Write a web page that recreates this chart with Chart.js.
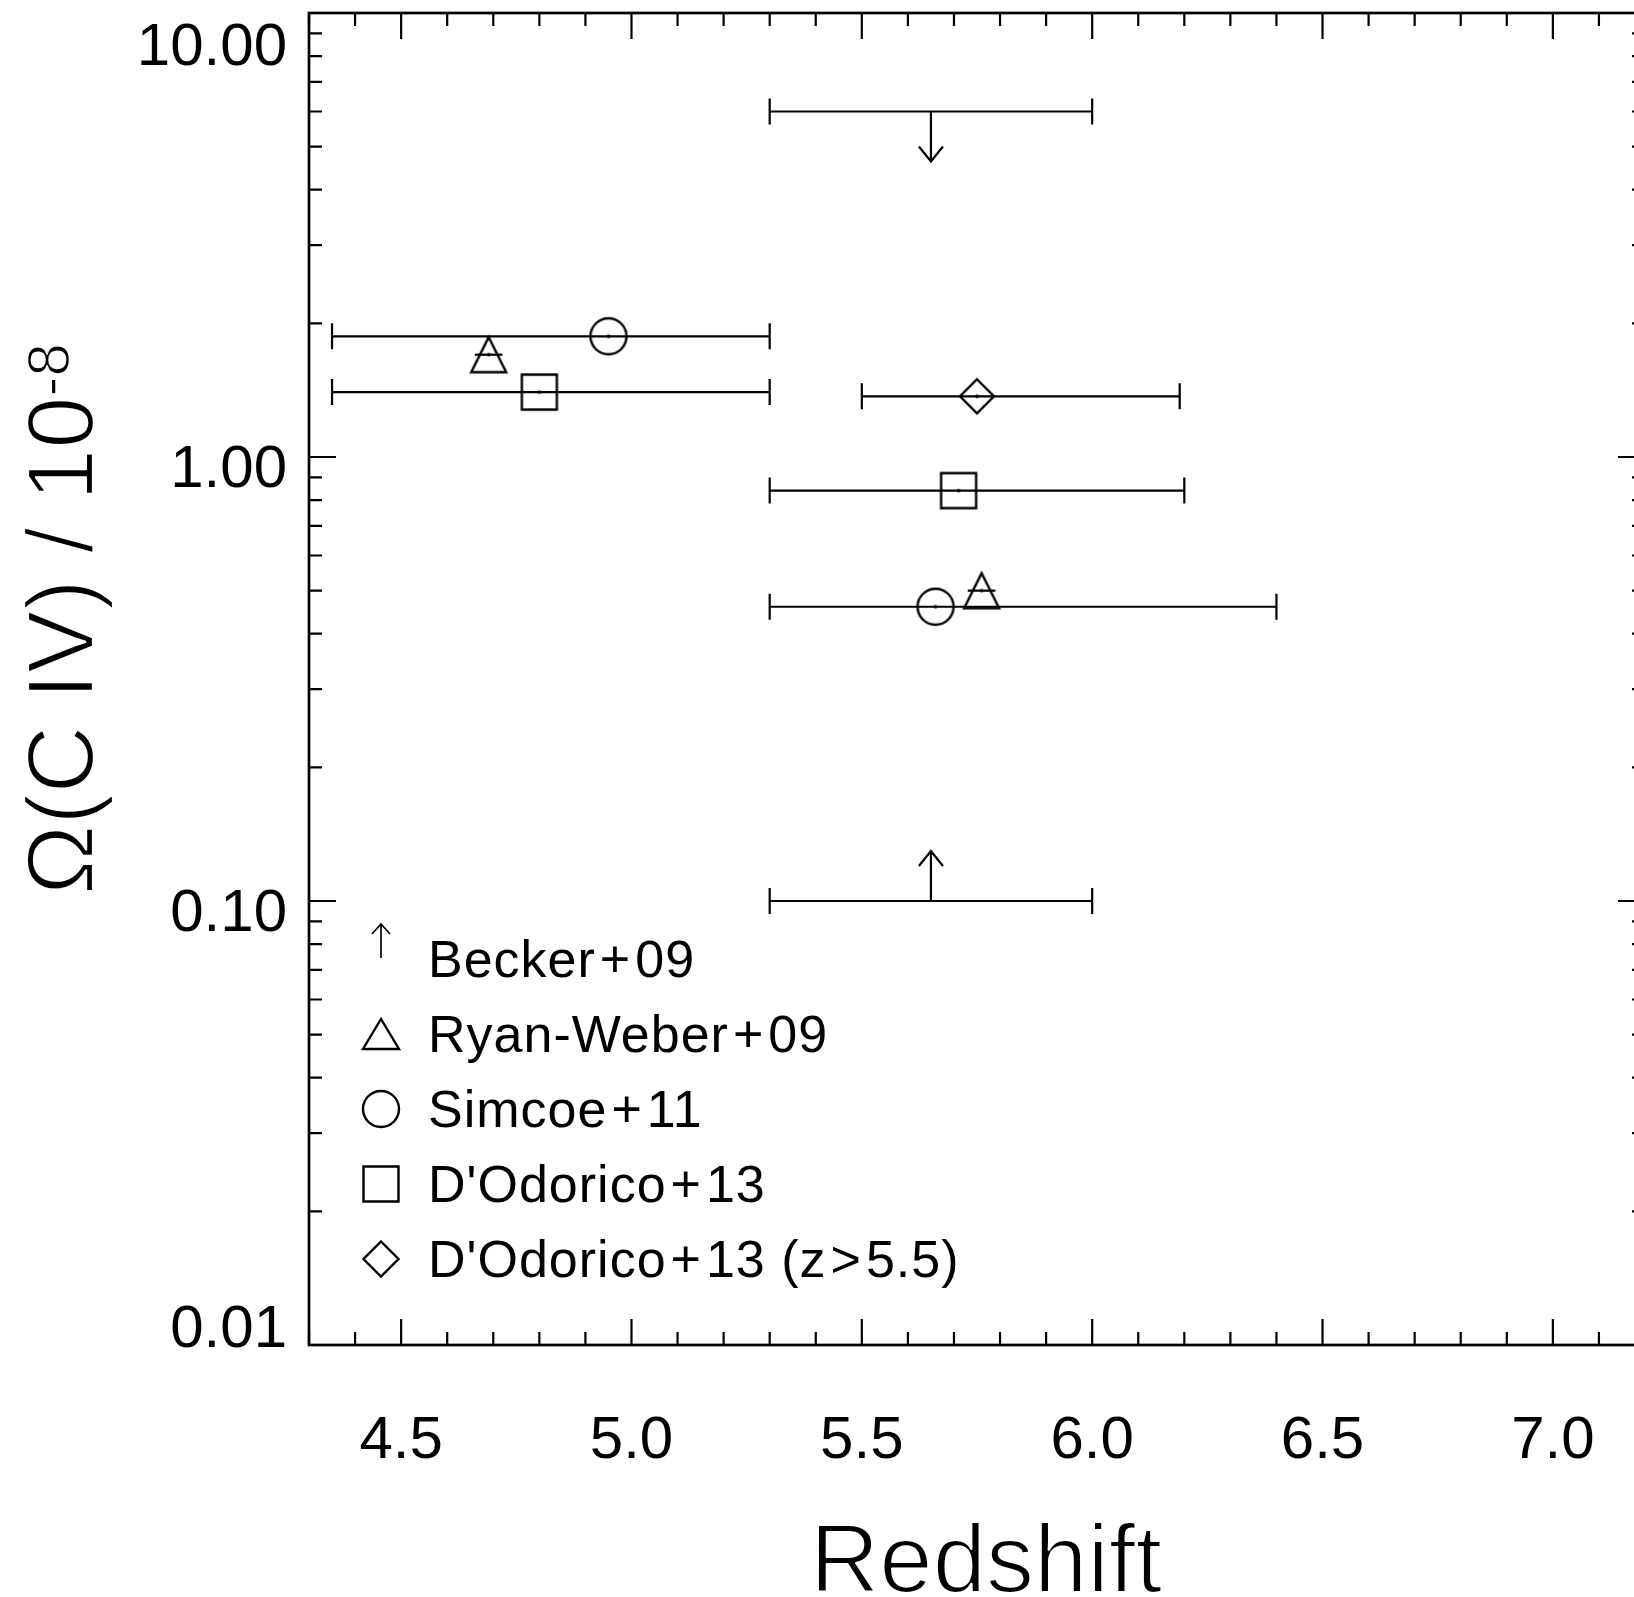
<!DOCTYPE html>
<html>
<head>
<meta charset="utf-8">
<script src="https://cdn.jsdelivr.net/npm/chart.js@4/dist/chart.umd.min.js"></script>
<style>
  html, body { margin: 0; padding: 0; background: #fff; overflow: hidden; }
  #plot { display: block; }
</style>
</head>
<body>
<canvas id="plot" width="1660" height="1597"></canvas>
<script>
// Omega(C IV) in units of 1e-8, binned in redshift
const beckerZ = [5.65, 5.65];
const beckerOmega = [6.0, 0.10];
const beckerZLo = [5.30, 5.30];
const beckerZHi = [6.00, 6.00];
const beckerLimit = ['upper', 'lower'];

const ryanWeberZ = [4.69, 5.76];
const ryanWeberOmega = [1.70, 0.50];
const ryanWeberZLo = [4.66, 5.73];
const ryanWeberZHi = [4.72, 5.79];

const simcoeZ = [4.95, 5.66];
const simcoeOmega = [1.87, 0.46];
const simcoeZLo = [4.35, 5.30];
const simcoeZHi = [5.30, 6.40];

const dodoricoZ = [4.80, 5.71];
const dodoricoOmega = [1.40, 0.84];
const dodoricoZLo = [4.35, 5.30];
const dodoricoZHi = [5.30, 6.20];

const dodoricoHiZ = [5.75];
const dodoricoHiOmega = [1.37];
const dodoricoHiZLo = [5.50];
const dodoricoHiZHi = [6.19];

const xTickLabels = ['4.5', '5.0', '5.5', '6.0', '6.5', '7.0'];
const yTickLabels = ['0.01', '0.10', '1.00', '10.00'];

const FONT = "'Liberation Sans', Arial, Helvetica, sans-serif";
const INK = '#000';

// open symbols, drawn once into small canvases and used as point styles
function makeMarker(kind, w, h, dot) {
    const c = document.createElement('canvas');
    c.width = 44;
    c.height = 44;
    const g = c.getContext('2d');
    const cx = 22, cy = 22;
    g.strokeStyle = INK;
    g.lineWidth = 2.4;
    g.lineJoin = 'miter';
    g.beginPath();
    if (kind === 'circle') {
        g.arc(cx, cy, w / 2, 0, Math.PI * 2);
    } else if (kind === 'square') {
        g.rect(cx - w / 2, cy - h / 2, w, h);
    } else if (kind === 'diamond') {
        g.moveTo(cx, cy - h / 2);
        g.lineTo(cx + w / 2, cy);
        g.lineTo(cx, cy + h / 2);
        g.lineTo(cx - w / 2, cy);
        g.closePath();
    } else if (kind === 'triangle') {
        g.moveTo(cx, cy - h / 2);
        g.lineTo(cx + w / 2, cy + h / 2);
        g.lineTo(cx - w / 2, cy + h / 2);
        g.closePath();
    }
    g.stroke();
    if (dot) {
        g.fillStyle = INK;
        g.beginPath();
        g.arc(cx, cy, 1.8, 0, Math.PI * 2);
        g.fill();
    }
    return c;
}

const series = [
    { label: 'Becker+09', z: beckerZ, omega: beckerOmega, lo: beckerZLo, hi: beckerZHi, limit: beckerLimit, kind: null, caps: true },
    { label: 'Ryan-Weber+09', z: ryanWeberZ, omega: ryanWeberOmega, lo: ryanWeberZLo, hi: ryanWeberZHi, kind: 'triangle', caps: false, size: [35, 35], legSize: [36, 30] },
    { label: 'Simcoe+11', z: simcoeZ, omega: simcoeOmega, lo: simcoeZLo, hi: simcoeZHi, kind: 'circle', caps: true, size: [36, 36], legSize: [36, 36] },
    { label: "D'Odorico+13", z: dodoricoZ, omega: dodoricoOmega, lo: dodoricoZLo, hi: dodoricoZHi, kind: 'square', caps: true, size: [35, 35], legSize: [35, 35] },
    { label: "D'Odorico+13 (z>5.5)", z: dodoricoHiZ, omega: dodoricoHiOmega, lo: dodoricoHiZLo, hi: dodoricoHiZHi, kind: 'diamond', caps: true, size: [34, 34], legSize: [35, 35] }
];

series.forEach(s => {
    if (s.kind) {
        s.marker = makeMarker(s.kind, s.size[0], s.size[1], true);
        s.legendMarker = makeMarker(s.kind, s.legSize[0], s.legSize[1], false);
    }
});

function arrow(ctx, x, y, dir, len, wing, head) {
    // dir = -1 points up, +1 points down
    const tipY = y + dir * len;
    ctx.beginPath();
    ctx.moveTo(x, y);
    ctx.lineTo(x, tipY);
    ctx.moveTo(x - wing, tipY - dir * head);
    ctx.lineTo(x, tipY);
    ctx.lineTo(x + wing, tipY - dir * head);
    ctx.stroke();
}

// fill then shave the glyph edges with white, for a lighter title face
function thinText(ctx, text, x, y, shave) {
    ctx.fillText(text, x, y);
    ctx.save();
    ctx.strokeStyle = '#fff';
    ctx.lineWidth = shave;
    ctx.lineJoin = 'round';
    ctx.strokeText(text, x, y);
    ctx.restore();
}

// legend text: operators get a little air on both sides
function spacedText(ctx, text, x, y) {
    const parts = text.split(/([+>])/);
    let cx = x;
    parts.forEach(p => {
        if (p === '+' || p === '>') {
            cx += 4;
            ctx.fillText(p, cx, y);
            cx += ctx.measureText(p).width + 4;
        } else if (p) {
            ctx.fillText(p, cx, y);
            cx += ctx.measureText(p).width;
        }
    });
}

// horizontal bin widths, caps and limit arrows
const errorBars = {
    id: 'errorBars',
    beforeDatasetsDraw(chart) {
        const ctx = chart.ctx;
        const xs = chart.scales.x, ys = chart.scales.y;
        ctx.save();
        ctx.strokeStyle = INK;
        ctx.lineWidth = 2.2;
        ctx.lineCap = 'butt';
        series.forEach(s => {
            s.z.forEach((z, i) => {
                const y = ys.getPixelForValue(s.omega[i]);
                const x1 = xs.getPixelForValue(s.lo[i]);
                const x2 = xs.getPixelForValue(s.hi[i]);
                ctx.beginPath();
                ctx.moveTo(x1, y);
                ctx.lineTo(x2, y);
                if (s.caps) {
                    ctx.moveTo(x1, y - 13);
                    ctx.lineTo(x1, y + 13);
                    ctx.moveTo(x2, y - 13);
                    ctx.lineTo(x2, y + 13);
                }
                ctx.stroke();
                if (s.limit) {
                    const dir = s.limit[i] === 'upper' ? 1 : -1;
                    arrow(ctx, xs.getPixelForValue(z), y, dir, 50, 12, 15);
                }
            });
        });
        ctx.restore();
    }
};

// box with inward ticks on all four sides, tick labels and axis titles
const frame = {
    id: 'frame',
    afterDraw(chart) {
        const ctx = chart.ctx;
        const a = chart.chartArea;
        const xs = chart.scales.x, ys = chart.scales.y;
        ctx.save();
        ctx.strokeStyle = INK;
        ctx.fillStyle = INK;

        ctx.lineWidth = 2.2;
        ctx.beginPath();
        for (let k = 43; k <= 72; k++) {
            const x = xs.getPixelForValue(k / 10);
            const len = k % 5 === 0 ? 26 : 13;
            ctx.moveTo(x, a.bottom);
            ctx.lineTo(x, a.bottom - len);
            ctx.moveTo(x, a.top);
            ctx.lineTo(x, a.top + len);
        }
        for (let d = -2; d <= 1; d++) {
            for (let m = 1; m <= 9; m++) {
                const v = m * Math.pow(10, d);
                if (v > 10.0001) break;
                const y = ys.getPixelForValue(v);
                const len = m === 1 ? 27 : 13;
                ctx.moveTo(a.left, y);
                ctx.lineTo(a.left + len, y);
                ctx.moveTo(a.right, y);
                ctx.lineTo(a.right - len, y);
            }
        }
        ctx.stroke();

        ctx.lineWidth = 2.7;
        ctx.strokeRect(a.left, a.top, a.right - a.left, a.bottom - a.top);

        ctx.font = '60px ' + FONT;
        ctx.textBaseline = 'alphabetic';
        ctx.textAlign = 'center';
        xTickLabels.forEach(t => {
            ctx.fillText(t, xs.getPixelForValue(parseFloat(t)), a.bottom + 113);
        });
        ctx.textAlign = 'right';
        yTickLabels.forEach(t => {
            const py = ys.getPixelForValue(parseFloat(t));
            const base = Math.min(Math.max(py + 30, a.top + 52), a.bottom + 2);
            ctx.fillText(t, a.left - 22, base);
        });

        ctx.font = '96px ' + FONT;
        ctx.textAlign = 'center';
        thinText(ctx, 'Redshift', a.left + 677, a.bottom + 247, 2.2);

        // rotated y title with superscript exponent
        ctx.translate(93, a.bottom - 450);
        ctx.rotate(-Math.PI / 2);
        ctx.textAlign = 'left';
        ctx.font = '94px ' + FONT;
        const main = '\u03A9(C IV) / 10';
        thinText(ctx, main, 0, 0, 2.2);
        const w = ctx.measureText(main).width;
        ctx.font = '60px ' + FONT;
        thinText(ctx, '-8', w, -24, 1.4);
        ctx.restore();
    }
};

const legendBox = {
    id: 'legendBox',
    afterDraw(chart) {
        const ctx = chart.ctx;
        const a = chart.chartArea;
        const symX = a.left + 72;
        const textX = a.left + 119;
        ctx.save();
        ctx.fillStyle = INK;
        ctx.strokeStyle = INK;
        ctx.font = '52px ' + FONT;
        ctx.letterSpacing = '1px';
        ctx.textAlign = 'left';
        ctx.textBaseline = 'alphabetic';
        series.forEach((s, i) => {
            const base = a.bottom - 368 + i * 75;
            spacedText(ctx, s.label, textX, base);
            const cy = base - 18;
            if (s.legendMarker) {
                ctx.drawImage(s.legendMarker, symX - 22, cy - 22);
            } else {
                ctx.lineWidth = 1.7;
                arrow(ctx, symX, base - 19, -1, 34, 9, 10);
            }
        });
        ctx.restore();
    }
};

const W = 1660, H = 1597;
const plotLeft = 309, plotTop = 13, plotRight = 1645, plotBottom = 1345;

const chart = new Chart(document.getElementById('plot').getContext('2d'), {
    type: 'scatter',
    data: {
        datasets: series.filter(s => s.kind).map(s => ({
            label: s.label,
            data: s.z.map((z, i) => ({ x: z, y: s.omega[i] })),
            pointStyle: s.marker,
            pointRadius: 18,
            pointHoverRadius: 18
        }))
    },
    options: {
        responsive: false,
        animation: false,
        events: [],
        layout: {
            autoPadding: false,
            padding: { left: plotLeft, top: plotTop, right: W - plotRight, bottom: H - plotBottom }
        },
        scales: {
            x: { type: 'linear', min: 4.3, max: 7.2, display: false },
            y: { type: 'logarithmic', min: 0.01, max: 10, display: false }
        },
        plugins: {
            legend: { display: false },
            tooltip: { enabled: false }
        }
    },
    plugins: [errorBars, frame, legendBox]
});
</script>
</body>
</html>
